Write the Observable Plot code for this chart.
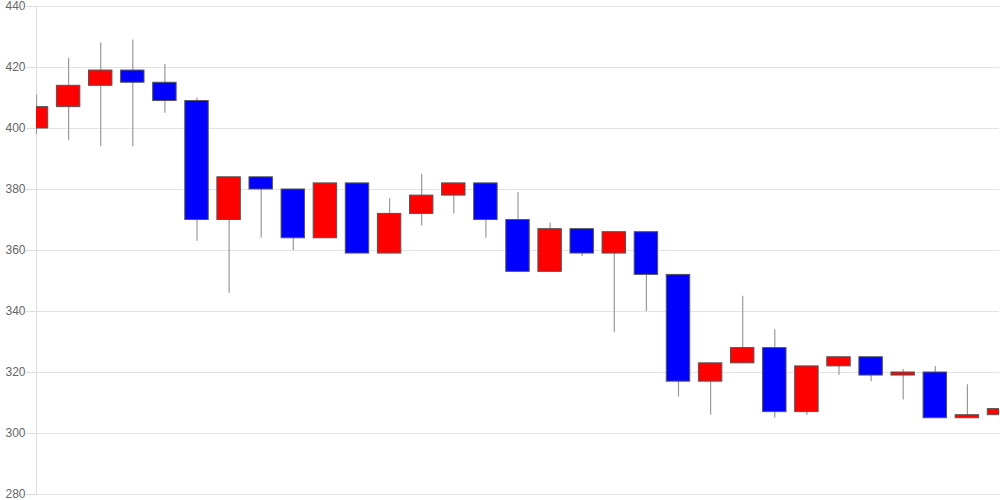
<!DOCTYPE html>
<html>
<head>
<meta charset="utf-8">
<script src="https://cdn.jsdelivr.net/npm/d3@7"></script>
<script src="https://cdn.jsdelivr.net/npm/@observablehq/plot@0.6"></script>
<style>
  html, body { margin: 0; padding: 0; background: #fff; }
</style>
</head>
<body>
<div id="chart"></div>
<script>
const opens  = [400, 407, 414, 419, 415, 409, 370, 384, 380, 364, 382, 359, 372, 378, 382, 370, 353, 367, 359, 366, 352, 317, 323, 328, 307, 322, 325, 319, 320, 305, 306];
const closes = [407, 414, 419, 415, 409, 370, 384, 380, 364, 382, 359, 372, 378, 382, 370, 353, 367, 359, 366, 352, 317, 323, 328, 307, 322, 325, 319, 320, 305, 306, 308];
const highs  = [411, 423, 428, 429, 421, 410, 384, 384, 380, 382, 382, 377, 385, 382, 382, 379, 369, 367, 366, 366, 352, 323, 345, 334, 322, 325, 325, 321, 322, 316, 309];
const lows   = [398, 396, 394, 394, 405, 363, 346, 364, 360, 364, 359, 359, 368, 372, 364, 353, 353, 358, 333, 340, 312, 306, 323, 305, 306, 319, 317, 311, 305, 305, 303];
const yTicks = [280, 300, 320, 340, 360, 380, 400, 420, 440];

const data = opens.map((o, i) => ({i, open: o, close: closes[i], high: highs[i], low: lows[i]}));
const half = 0.365;

const chart = Plot.plot({
  width: 1000,
  height: 500,
  marginTop: 6,
  marginBottom: 6,
  marginLeft: 36,
  marginRight: 1,
  style: {fontFamily: "'Liberation Sans', Arial, sans-serif", fontSize: "12px", background: "#fff"},
  x: {domain: [0, 30], axis: null},
  y: {domain: [280, 440]},
  marks: [
    Plot.gridY(yTicks, {stroke: "#e3e3e3", strokeOpacity: 1}),
    Plot.axisY(yTicks, {tickSize: 10, tickPadding: 1, color: "#666", stroke: "#ddd", strokeOpacity: 1, label: null, fontSize: 12}),
    Plot.ruleX([0], {stroke: "#ddd"}),
    Plot.ruleX(data, {x: "i", y1: "low", y2: "high", stroke: "#999", strokeWidth: 1.2, clip: true}),
    Plot.rect(data, {
      x1: d => d.i - half,
      x2: d => d.i + half,
      y1: "open",
      y2: "close",
      fill: d => d.close >= d.open ? "#ff0000" : "#0000ff",
      stroke: "#555",
      strokeWidth: 1,
      clip: true
    })
  ]
});
document.getElementById("chart").appendChild(chart);
</script>
</body>
</html>
